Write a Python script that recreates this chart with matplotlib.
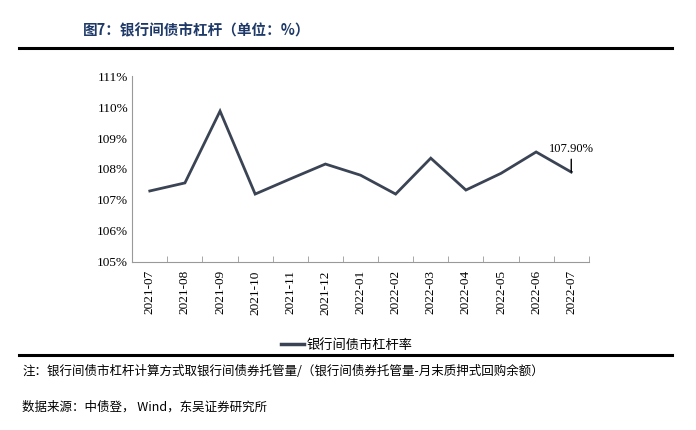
"""Bank interbank bond market leverage ratio."""
import matplotlib.pyplot as plt
from matplotlib.lines import Line2D

months = ["2021-07", "2021-08", "2021-09", "2021-10", "2021-11", "2021-12",
          "2022-01", "2022-02", "2022-03", "2022-04", "2022-05", "2022-06",
          "2022-07"]
leverage = [107.29, 107.55, 109.87, 107.19, 107.68, 108.16,
            107.80, 107.19, 108.35, 107.32, 107.86, 108.55, 107.90]
yticks = [105, 106, 107, 108, 109, 110, 111]

cjk = ["Noto Sans CJK SC", "DejaVu Sans"]
serif = ["Liberation Serif", "DejaVu Serif"]
line_color = "#3b4454"

fig = plt.figure(figsize=(6.96, 4.30), dpi=100)
ax = fig.add_axes([0.19, 0.391, 0.656, 0.432])

x = list(range(len(months)))
ax.plot(x, leverage, color=line_color, lw=2.0, solid_joinstyle="miter")

ax.set_xlim(-0.5, len(months) - 0.5)
ax.set_ylim(105, 111)
ax.set_yticks(yticks)
ax.set_yticklabels([f"{v}%" for v in yticks], family=serif, fontsize=9.5)
ax.set_xticks(x)
ax.set_xticklabels(months, rotation=90, family=serif, fontsize=9.5)
ax.set_xticks([i - 0.5 for i in range(len(months) + 1)], minor=True)
ax.tick_params(axis="x", which="major", length=0, pad=6)
ax.tick_params(axis="x", which="minor", length=4, color="#999999", direction="in")
ax.tick_params(axis="y", length=0, pad=3)
for side in ["top", "right"]:
    ax.spines[side].set_visible(False)
for side in ["left", "bottom"]:
    ax.spines[side].set_color("#999999")
    ax.spines[side].set_linewidth(0.8)

# label for the last point
last = len(months) - 1
ax.annotate(f"{leverage[last]:.2f}%", xy=(last, leverage[last]),
            xytext=(last, leverage[last] + 0.55), ha="center", va="bottom",
            family=serif, fontsize=9,
            arrowprops=dict(arrowstyle="-", color="black", lw=1.0,
                            shrinkA=1, shrinkB=0))

handle = Line2D([], [], color=line_color, lw=2.5)
ax.legend([handle], ["银行间债市杠杆率"], loc="center",
          bbox_to_anchor=(0.47, -0.45), frameon=False, handlelength=1.8,
          handletextpad=0.2, prop={"family": cjk, "size": 9.5})

fig.text(0.119, 0.93, "图7：银行间债市杠杆（单位：%）", family=cjk,
         fontsize=10.5, fontweight="bold", color="#1f3a68", va="center")
fig.add_artist(Line2D([0.027, 0.966], [0.889, 0.889], color="black", lw=2.2))
fig.add_artist(Line2D([0.027, 0.966], [0.174, 0.174], color="black", lw=2.2))
fig.text(0.032, 0.137,
         "注：银行间债市杠杆计算方式取银行间债券托管量/（银行间债券托管量-月末质押式回购余额）",
         family=cjk, fontsize=9, va="center")
fig.text(0.032, 0.053, "数据来源：中债登， Wind，东吴证券研究所",
         family=cjk, fontsize=9, va="center")

fig.savefig("out.png", dpi=100)
